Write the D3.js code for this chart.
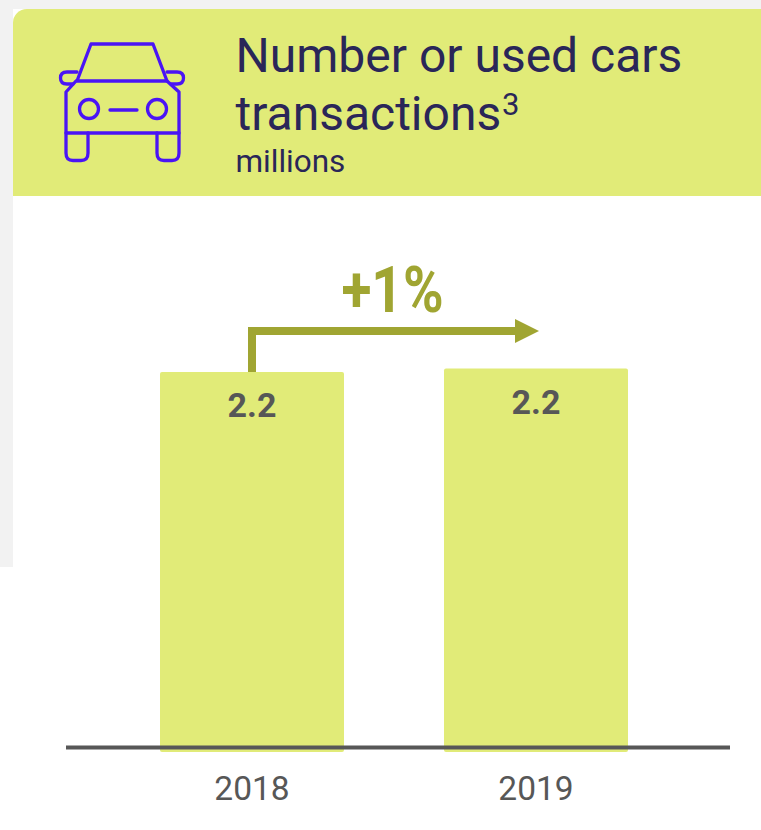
<!DOCTYPE html>
<html>
<head>
<meta charset="utf-8">
<script src="https://cdnjs.cloudflare.com/ajax/libs/d3/7.8.5/d3.min.js"></script>
<style>
  html, body { margin: 0; padding: 0; background: #fff; }
  svg { display: block; font-family: Roboto, sans-serif; }
</style>
</head>
<body>
<svg id="chart" width="761" height="830"></svg>
<script>
const years = ["2018", "2019"];
const transactions = [2.2, 2.22];
const growthLabel = "+1%";
const titleLines = ["Number or used cars", "transactions"];
const titleNote = "3";
const unitLabel = "millions";

const lime = "#e1eb78";
const olive = "#a0a532";
const ink = "#2a2658";
const grey = "#575757";
const iconBlue = "#4a14f5";

const svg = d3.select("#chart");

// Page margin and card header
svg.append("path")
  .attr("fill", "#f2f2f2")
  .attr("d", "M0,0H761V9H13V567H0Z");
svg.append("path")
  .attr("fill", lime)
  .attr("d", "M13,196V23A14,14 0 0 1 27,9H761V196Z");

// Car icon
const car = svg.append("g")
  .attr("fill", "none")
  .attr("stroke", iconBlue)
  .attr("stroke-width", 3.300)
  .attr("stroke-linejoin", "round")
  .attr("stroke-linecap", "round");
car.append("path").attr("d", "M77,81L91,44H153L167,81Z");
car.append("path").attr("d", "M77,72H67Q60.500,72 60.500,78Q60.500,84 67,84H73");
car.append("path").attr("d", "M167,72H177Q183.500,72 183.500,78Q183.500,84 177,84H171");
car.append("path").attr("d", "M76,81L66,92V133H179V92L167,81");
car.append("path").attr("d", "M66,133V153Q66,160.500 73,160.500H81Q88,160.500 88,153V133");
car.append("path").attr("d", "M157,133V153Q157,160.500 164,160.500H172Q179,160.500 179,153V133");
car.append("circle").attr("cx", 89).attr("cy", 109).attr("r", 9.500);
car.append("circle").attr("cx", 157).attr("cy", 109).attr("r", 9.500);
car.append("path").attr("d", "M110,110H137");

// Header text
const title = svg.append("g").attr("fill", ink);
title.selectAll("text.line")
  .data(titleLines)
  .join("text")
  .attr("class", "line")
  .attr("x", 235.500)
  .attr("y", (d, i) => 72 + i * 58)
  .attr("font-size", 48)
  .text(d => d);
title.append("text")
  .attr("x", 502).attr("y", 115)
  .attr("font-size", 31)
  .text(titleNote);
title.append("text")
  .attr("x", 235.500).attr("y", 172)
  .attr("font-size", 31.500)
  .text(unitLabel);

// Scales
const xCentre = d3.scalePoint().domain(years).range([252, 536]);
const barWidth = 184;
const y = d3.scaleLinear().domain([0, 2.2]).range([752, 372]);

// Bars
svg.selectAll("rect.bar")
  .data(years)
  .join("rect")
  .attr("class", "bar")
  .attr("x", d => xCentre(d) - barWidth / 2)
  .attr("width", barWidth)
  .attr("y", (d, i) => y(transactions[i]))
  .attr("height", (d, i) => y(0) - y(transactions[i]))
  .attr("rx", 2)
  .attr("fill", lime);

// Bar value labels
svg.selectAll("text.value")
  .data(years)
  .join("text")
  .attr("class", "value")
  .attr("x", d => xCentre(d))
  .attr("y", (d, i) => y(transactions[i]) + 45)
  .attr("text-anchor", "middle")
  .attr("font-size", 34)
  .attr("font-weight", 700)
  .attr("fill", grey)
  .text((d, i) => d3.format(".1f")(transactions[i]));

// Baseline and year labels
svg.append("line")
  .attr("x1", 66).attr("x2", 730)
  .attr("y1", 747.500).attr("y2", 747.500)
  .attr("stroke", grey)
  .attr("stroke-width", 4);
const xAxis = d3.axisBottom(xCentre).tickSize(0).tickPadding(0);
const axisG = svg.append("g")
  .attr("transform", "translate(-0.5,800)")
  .call(xAxis);
axisG.select(".domain").remove();
axisG.selectAll("text")
  .attr("dy", 0)
  .attr("y", 0)
  .attr("font-family", "Roboto, sans-serif")
  .attr("font-size", 33.500)
  .attr("fill", grey);

// Growth arrow
const arrow = svg.append("g").attr("fill", olive);
arrow.append("path")
  .attr("fill", "none")
  .attr("stroke", olive)
  .attr("stroke-width", 8)
  .attr("d", `M${xCentre(years[0])},${y(transactions[0])}V331H516`);
arrow.append("path").attr("d", "M515,319L539,331L515,343Z");
arrow.append("text")
  .attr("transform", "translate(392.5,312) scale(0.86,1)")
  .attr("text-anchor", "middle")
  .attr("font-size", 64)
  .attr("font-weight", 700)
  .text(growthLabel);
</script>
</body>
</html>
